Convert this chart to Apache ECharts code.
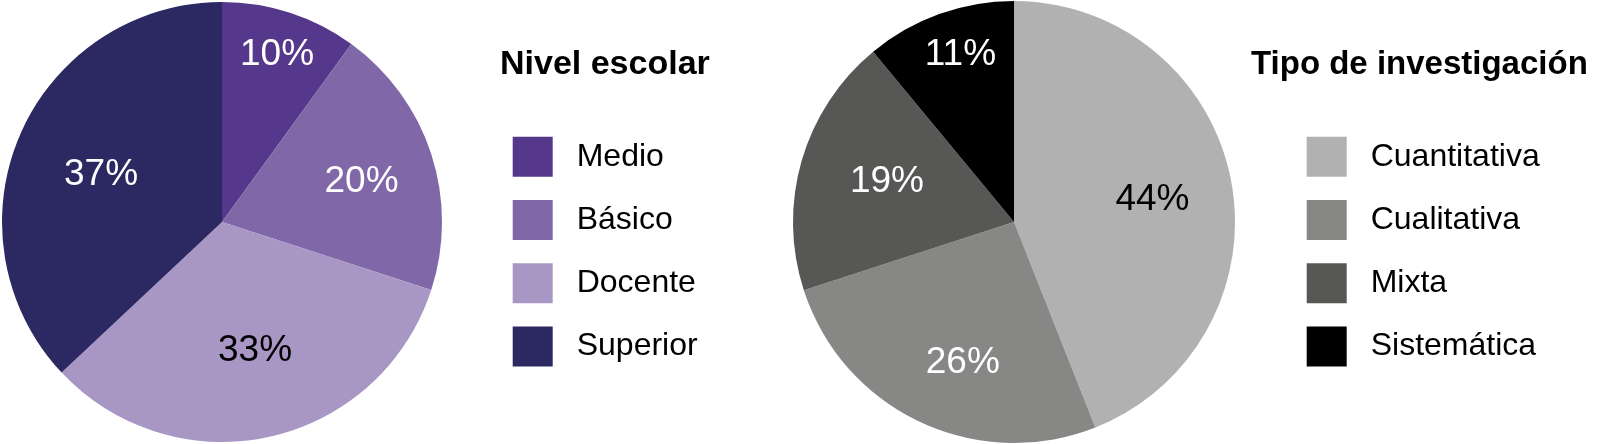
<!DOCTYPE html>
<html>
<head>
<meta charset="utf-8">
<script src="https://cdn.jsdelivr.net/npm/echarts@6/dist/echarts.min.js"></script>
<style>
html,body{margin:0;padding:0;background:#fff;}
#c{width:1602px;height:444px;}
</style>
</head>
<body>
<div id="c"></div>
<script>
// ---- data ----
var titleLeft = 'Nivel escolar';
var catsLeft = ['Medio', 'Básico', 'Docente', 'Superior'];
var valsLeft = [10, 20, 33, 37];

var titleRight = 'Tipo de investigación';
var catsRight = ['Cuantitativa', 'Cualitativa', 'Mixta', 'Sistemática'];
var valsRight = [44, 26, 19, 11];

// ---- styles ----
var colorsLeft = ['#55378b', '#7f67a8', '#a897c5', '#2c2862'];
var colorsRight = ['#b1b1b1', '#878786', '#575756', '#000000'];
var labelColorsLeft = ['#fff', '#fff', '#000', '#fff'];
var labelColorsRight = ['#000', '#fff', '#fff', '#fff'];
// label placement: fraction of radius, angle shift (degrees)
var labelRadLeft = [0.81, 0.663, 0.596, 0.593];
var labelRadRight = [0.636, 0.668, 0.606, 0.802];
var labelShiftLeft = [0, 1.1, -2, -1.4];
var labelShiftRight = [0.8, -4.9, 2.2, 2.2];

var pies = [
  {center: [222, 222], r: 220, rads: labelRadLeft, shifts: labelShiftLeft, vals: valsLeft},
  {center: [1014, 222], r: 221, rads: labelRadRight, shifts: labelShiftRight, vals: valsRight}
];

var FONT = '"Liberation Sans", Arial, sans-serif';

function makeData(cats, vals, colors, lcolors) {
  return cats.map(function (c, i) {
    return {
      name: c, value: vals[i],
      itemStyle: {color: colors[i]},
      label: {color: lcolors[i]}
    };
  });
}

function makeLayout(si) {
  return function (params) {
    var p = pies[si];
    var i = params.dataIndex;
    var total = p.vals.reduce(function (a, b) { return a + b; }, 0);
    var cum = 0;
    for (var j = 0; j < i; j++) cum += p.vals[j];
    var mid = (cum + p.vals[i] / 2) / total * 360 + p.shifts[i];
    var a = mid * Math.PI / 180;
    var rr = p.rads[i] * p.r;
    return {
      x: p.center[0] + rr * Math.sin(a),
      y: p.center[1] - rr * Math.cos(a) + 2,
      align: 'center',
      verticalAlign: 'middle'
    };
  };
}

function makeSeries(si, cats, vals, colors, lcolors) {
  return {
    type: 'pie',
    center: pies[si].center,
    radius: [0, pies[si].r],
    startAngle: 90,
    clockwise: true,
    avoidLabelOverlap: false,
    animation: false,
    silent: true,
    itemStyle: {borderWidth: 0},
    label: {
      show: true,
      position: 'inside',
      formatter: '{c}%',
      fontSize: 37,
      fontFamily: FONT,
      fontWeight: 'normal'
    },
    labelLine: {show: false},
    labelLayout: makeLayout(si),
    data: makeData(cats, vals, colors, lcolors)
  };
}

var legendCommon = {
  orient: 'vertical',
  icon: 'rect',
  itemWidth: 40,
  itemHeight: 40,
  itemGap: 23.3,
  padding: 0,
  selectedMode: false,
  textStyle: {fontSize: 32, fontFamily: FONT, color: '#000', padding: [5, 0, 0, 19]}
};

var chart = echarts.init(document.getElementById('c'), null, {renderer: 'canvas'});
chart.setOption({
  backgroundColor: '#fff',
  animation: false,
  title: [
    {text: titleLeft, left: 500, top: 48, padding: 0,
     textStyle: {fontSize: 34, fontWeight: 'bold', fontFamily: FONT, color: '#000'}},
    {text: titleRight, left: 1251, top: 48, padding: 0,
     textStyle: {fontSize: 33, fontWeight: 'bold', fontFamily: FONT, color: '#000'}}
  ],
  legend: [
    Object.assign({}, legendCommon, {left: 512.7, top: 136.7, data: catsLeft}),
    Object.assign({}, legendCommon, {left: 1306.7, top: 136.7, data: catsRight})
  ],
  series: [
    makeSeries(0, catsLeft, valsLeft, colorsLeft, labelColorsLeft),
    makeSeries(1, catsRight, valsRight, colorsRight, labelColorsRight)
  ]
});
</script>
</body>
</html>
